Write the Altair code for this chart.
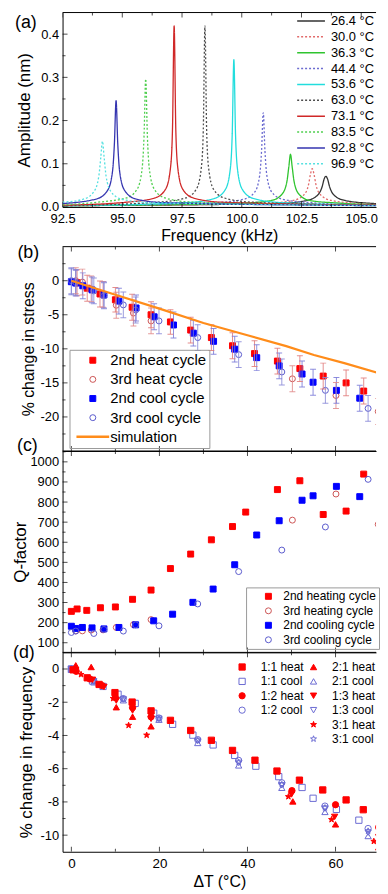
import altair as alt
import pandas as pd

FONT = "Liberation Sans"
W = 316
HA, HB, HC, HD = 196, 206, 203, 201

# ---------------- (a) resonance curves ----------------
a_labels = ["26.4 °C", "30.0 °C", "36.3 °C", "44.4 °C", "53.6 °C",
            "63.0 °C", "73.1 °C", "83.5 °C", "92.8 °C", "96.9 °C"]
a_colors = ["#333333", "#e26a6a", "#2fc42f", "#6b6bd0", "#22dddd",
            "#4d4d4d", "#d02828", "#4fcf4f", "#3535b0", "#55e0e0"]
a_dash = [[1, 0], [2, 2], [1, 0], [2, 2], [1, 0], [2, 2], [1, 0], [2, 2], [1, 0], [2, 2]]

f_264 = [92.5, 101.52, 102.72, 103.17, 103.37, 103.45, 103.52, 103.59, 103.67, 103.87, 104.32, 105.52, 105.82]
A_264 = [0.003, 0.008, 0.015, 0.027, 0.048, 0.065, 0.071, 0.065, 0.048, 0.027, 0.015, 0.008, 0.007]
f_300 = [92.5, 100.95, 102.15, 102.6, 102.8, 102.88, 102.95, 103.02, 103.1, 103.3, 103.75, 104.95, 105.82]
A_300 = [0.003, 0.008, 0.015, 0.028, 0.053, 0.077, 0.0885, 0.077, 0.053, 0.028, 0.015, 0.008, 0.005]
f_363 = [92.5, 100.04, 101.24, 101.69, 101.89, 101.97, 102.04, 102.11, 102.19, 102.39, 102.84, 104.04, 105.82]
A_363 = [0.003, 0.009, 0.015, 0.030, 0.059, 0.093, 0.122, 0.093, 0.059, 0.030, 0.015, 0.009, 0.005]
f_444 = [92.5, 98.9, 100.1, 100.55, 100.75, 100.83, 100.9, 100.97, 101.05, 101.25, 101.7, 102.9, 105.82]
A_444 = [0.003, 0.010, 0.018, 0.035, 0.073, 0.131, 0.218, 0.131, 0.073, 0.035, 0.018, 0.010, 0.004]
f_536 = [92.5, 97.67, 98.87, 99.32, 99.52, 99.6, 99.67, 99.74, 99.82, 100.02, 100.47, 101.67, 105.82]
A_536 = [0.003, 0.010, 0.020, 0.041, 0.088, 0.167, 0.341, 0.167, 0.088, 0.041, 0.020, 0.010, 0.004]
f_630 = [92.5, 96.46, 97.66, 98.11, 98.31, 98.39, 98.46, 98.53, 98.61, 98.81, 99.26, 100.46, 105.82]
A_630 = [0.003, 0.011, 0.021, 0.042, 0.092, 0.178, 0.419, 0.178, 0.092, 0.042, 0.021, 0.011, 0.004]
f_731 = [92.5, 95.17, 96.37, 96.82, 97.02, 97.1, 97.17, 97.24, 97.32, 97.52, 97.97, 99.17, 105.82]
A_731 = [0.004, 0.011, 0.021, 0.042, 0.092, 0.178, 0.419, 0.178, 0.092, 0.042, 0.021, 0.011, 0.004]
f_835 = [92.5, 93.98, 95.18, 95.63, 95.83, 95.91, 95.98, 96.05, 96.13, 96.33, 96.78, 97.98, 105.82]
A_835 = [0.005, 0.011, 0.021, 0.042, 0.089, 0.164, 0.296, 0.164, 0.089, 0.042, 0.021, 0.011, 0.003]
f_928 = [92.5, 93.94, 94.39, 94.59, 94.67, 94.74, 94.81, 94.89, 95.09, 95.54, 96.74, 105.82]
A_928 = [0.008, 0.019, 0.039, 0.082, 0.147, 0.246, 0.147, 0.082, 0.039, 0.019, 0.010, 0.003]
f_969 = [92.5, 93.37, 93.82, 94.02, 94.1, 94.17, 94.24, 94.32, 94.52, 94.97, 96.17, 105.82]
A_969 = [0.011, 0.018, 0.036, 0.072, 0.115, 0.152, 0.115, 0.072, 0.036, 0.018, 0.010, 0.003]

a_f = [f_264, f_300, f_363, f_444, f_536, f_630, f_731, f_835, f_928, f_969]
a_A = [A_264, A_300, A_363, A_444, A_536, A_630, A_731, A_835, A_928, A_969]

a_xt_major = [92.5, 95.0, 97.5, 100.0, 102.5, 105.0]
a_xt_minor = [93.75, 96.25, 98.75, 101.25, 103.75]
a_yt_major = [0.0, 0.1, 0.2, 0.3, 0.4]
a_yt_minor = [0.05, 0.15, 0.25, 0.35]

# ---------------- (b) stress ----------------
b_series = ["2nd heat cycle", "3rd heat cycle", "2nd cool cycle", "3rd cool cycle", "simulation"]
b_h2_x = [1.3, 3.6, 6.5, 10.0, 13.8, 18.1, 22.5, 27.1, 31.8, 36.6, 41.6, 46.8, 51.9, 57.2, 62.4, 66.4, 70.5]
b_h2_y = [-0.3, -1.1, -1.95, -2.8, -3.9, -5.0, -6.05, -7.25, -8.35, -9.55, -10.7, -11.8, -12.9, -14.0, -15.0, -16.2, -17.3]
b_h2_e = [1.9, 1.9, 1.9, 1.8, 1.9, 1.9, 1.8, 1.9, 1.9, 1.9, 1.9, 1.9, 1.9, 1.9, 1.9, 1.9, 1.9]
b_h3_x = [1.0, 2.5, 4.5, 7.2, 10.2, 14.1, 18.1, 50.2, 60.1, 69.7]
b_h3_y = [0.0, -0.2, -1.2, -2.0, -3.6, -4.75, -5.9, -14.4, -16.85, -19.2]
b_h3_e = [1.9, 1.9, 1.9, 1.9, 1.9, 1.9, 1.9, 1.9, 1.9, 1.9]
b_c2_x = [0.0, 1.0, 2.6, 4.7, 7.4, 10.8, 14.7, 18.8, 23.2, 27.7, 32.3, 37.1, 42.1, 47.2, 52.4, 54.9, 60.2, 65.5, 70.5]
b_c2_y = [-0.15, -0.35, -0.75, -1.35, -2.1, -3.0, -4.0, -5.3, -6.5, -7.7, -8.9, -10.05, -11.3, -12.5, -13.7, -14.9, -16.1, -17.25, -18.5]
b_c2_e = [1.9, 1.9, 1.9, 1.9, 1.9, 1.9, 1.9, 1.9, 1.9, 1.9, 1.9, 1.9, 1.9, 1.9, 1.9, 1.9, 1.9, 1.9, 1.9]
b_c3_x = [0.0, 1.0, 5.1, 7.4, 11.8, 14.6, 19.9, 28.7, 38.0, 47.8, 57.7, 67.4]
b_c3_y = [0.0, -0.25, -1.5, -2.2, -3.55, -4.3, -5.9, -8.35, -10.85, -13.4, -16.1, -18.75]
b_c3_e = [1.9, 1.9, 1.9, 1.9, 1.9, 1.9, 1.9, 1.9, 1.9, 1.9, 1.9, 1.9]
sim_x = [0, 10, 20, 30, 40, 48.8, 55.1, 62, 70.6]
sim_y = [0, -2.05, -4.1, -6.2, -8.0, -9.6, -10.9, -12.1, -13.7]

b_shapes = ["square", "circle", "square", "circle", "M-5.5,0L5.5,0"]
b_fills = ["#ff0000", "transparent", "#0000ff", "transparent", "transparent"]
b_strokes = ["#ff0000", "#cc5555", "#0000ff", "#5a5acc", "#ff8c1a"]
b_sw = [1, 1, 1, 1, 2.5]
b_errcol = ["#e07a7a", "#e08a8a", "#7a7ad8", "#8a8ad8"]
b_yt_major = [0, -5, -10, -15, -20]
b_yt_minor = [2.5, -2.5, -7.5, -12.5, -17.5, -22.5]

# ---------------- (c) Q-factor ----------------
c_series = ["2nd heating cycle", "3rd heating cycle", "2nd cooling cycle", "3rd cooling cycle"]
c_h2_x = [0.0, 1.3, 3.5, 6.6, 10.0, 13.9, 18.1, 22.5, 27.1, 31.8, 36.6, 39.6, 46.8, 51.9, 57.2, 62.4, 66.4, 70.5]
c_h2_y = [256, 268, 261, 274, 278, 316, 362, 469, 541, 612, 678, 750, 862, 906, 738, 755, 939, 722]
c_h3_x = [1.0, 2.5, 4.5, 7.2, 10.2, 14.1, 18.1, 50.2, 60.1, 69.7]
c_h3_y = [159, 159, 163, 164, 176, 190, 215, 710, 840, 689]
c_c2_x = [0.0, 1.0, 2.5, 4.7, 7.4, 10.8, 14.6, 18.7, 23.0, 27.6, 32.2, 37.1, 42.1, 47.2, 52.4, 54.9, 60.2, 65.5, 70.5]
c_c2_y = [182, 171, 176, 174, 169, 176, 189, 209, 242, 301, 367, 488, 636, 707, 809, 831, 878, 827, 900]
c_c3_x = [0.0, 1.0, 5.1, 7.4, 11.8, 14.6, 19.9, 28.7, 38.0, 47.8, 57.7, 67.4]
c_c3_y = [151, 158, 146, 166, 158, 189, 184, 293, 454, 561, 676, 913]
c_shapes = ["square", "circle", "square", "circle"]
c_fills = ["#ff0000", "transparent", "#0000ff", "transparent"]
c_strokes = ["#ff0000", "#cc5555", "#0000ff", "#5a5acc"]
c_yt_major = [100, 200, 300, 400, 500, 600, 700, 800, 900, 1000]
c_yt_minor = [150, 250, 350, 450, 550, 650, 750, 850, 950, 1050]

# ---------------- (d) frequency change ----------------
d_11h_x = [0.4, 3.6, 6.3, 9.9, 13.8, 18.1, 22.5, 27.1, 31.8, 36.6, 41.7, 46.7, 51.8, 57.1, 62.4, 66.3, 70.4]
d_11h_y = [-0.05, -0.53, -0.93, -1.42, -1.99, -2.52, -3.09, -3.70, -4.29, -4.90, -5.49, -6.14, -6.69, -7.28, -7.88, -8.47, -9.0]
d_11c_x = [0.0, 4.8, 7.2, 10.6, 14.5, 18.7, 23.0, 27.6, 32.2, 37.1, 41.9, 47.1, 52.4, 54.9, 60.2, 65.3, 70.4]
d_11c_y = [0.0, -0.72, -1.05, -1.52, -2.07, -2.66, -3.33, -3.98, -4.57, -5.2, -5.85, -6.48, -7.13, -7.78, -8.45, -9.1, -9.7]
d_12h_x = [1.1, 4.2, 7.0, 10.0, 13.9, 18.1, 50.1, 60.0, 69.8]
d_12h_y = [-0.14, -0.6, -1.0, -1.72, -2.32, -2.88, -7.32, -8.17, -9.53]
d_12c_x = [0.0, 5.1, 11.8, 19.9, 28.7, 38.0, 47.8, 57.6, 67.4]
d_12c_y = [0.0, -0.7, -1.78, -2.95, -4.25, -5.5, -6.85, -8.25, -9.6]
d_21h_x = [1.0, 4.5, 10.2, 13.9, 18.1, 50.3, 60.0, 69.8]
d_21h_y = [0.22, 0.12, -2.3, -2.87, -3.45, -7.97, -9.35, -10.73]
d_21c_x = [0.0, 5.1, 11.8, 19.9, 28.7, 38.0, 47.8, 57.6, 67.4]
d_21c_y = [-0.05, -0.8, -1.88, -3.05, -4.45, -5.8, -7.15, -8.6, -10.05]
d_13h_x = [1.0, 4.8, 7.4, 10.2, 13.9, 18.1, 50.0, 59.8, 69.8]
d_13h_y = [-0.1, -0.65, -1.08, -1.9, -2.5, -3.0, -7.55, -8.9, -10.12]
d_13c_x = [0.0, 5.1, 11.8, 19.9, 28.7, 38.0, 47.8, 57.6, 67.4]
d_13c_y = [0.0, -0.75, -1.83, -3.0, -4.33, -5.65, -7.0, -8.4, -9.85]
d_31h_x = [2.2, 6.5, 9.5, 13.0, 17.1, 49.3, 59.1, 68.7]
d_31h_y = [-0.33, -0.95, -1.77, -3.39, -3.98, -7.68, -9.06, -10.37]
d_31c_x = [0.0, 5.1, 11.8, 19.9, 28.7, 38.0, 47.8, 57.6, 67.4]
d_31c_y = [0.0, -0.73, -1.8, -2.98, -4.3, -5.62, -6.95, -8.35, -9.75]

STAR = "M0,-1L0.235,-0.324L0.951,-0.309L0.38,0.124L0.588,0.809L0,0.4L-0.588,0.809L-0.38,0.124L-0.951,-0.309L-0.235,-0.324Z"
RED, BLU = "#ff0000", "#6a6ad2"
# legend fills column by column: four entries plus two blank slots, then six entries
d_domain = ["1:1 heat", "1:1 cool", "1:2 heat", "1:2 cool", " ", "  ",
            "2:1 heat", "2:1 cool", "1:3 heat", "1:3 cool", "3:1 heat", "3:1 cool"]
d_shapes = ["square", "square", "circle", "circle", "circle", "circle",
            "triangle-up", "triangle-up", "triangle-down", "triangle-down", STAR, STAR]
d_fills = [RED, "transparent", RED, "transparent", "transparent", "transparent",
           RED, "transparent", RED, "transparent", RED, "transparent"]
d_strokes = [RED, BLU, RED, BLU, "transparent", "transparent", RED, BLU, RED, BLU, RED, BLU]
d_yt_major = [0, -2, -4, -6, -8, -10]
d_yt_minor = [-1, -3, -5, -7, -9]

dT_major = [0, 20, 40, 60]
dT_minor = [10, 30, 50]

# ---------------- scales ----------------
xa = alt.Scale(domain=[92.5, 105.62], nice=False, zero=False)
ya = alt.Scale(domain=[0, 0.45], nice=False, zero=False)
xT = alt.Scale(domain=[-2, 69.2], nice=False, zero=False)
yb = alt.Scale(domain=[-25, 5], nice=False, zero=False)
yc = alt.Scale(domain=[52, 1054], nice=False, zero=False)
yd = alt.Scale(domain=[-11, 1], nice=False, zero=False)

MINUS = "replace(datum.label, '\u2212', '-')"
one = pd.DataFrame({"k": [0]})

IND = dict(color="independent", fill="independent", stroke="independent", shape="independent",
           strokeDash="independent", strokeWidth="independent")


def frame(xs, ys, xax, yax, h, xmaj, xmin, ymaj, ymin):
    layers = []
    for vals, ln in ((xmaj, 5), (xmin, 3)):
        d = pd.DataFrame({"v": vals})
        for yy in (ln / 2, h - ln / 2):
            layers.append(alt.Chart(d).mark_tick(orient="vertical", size=ln, thickness=1, color="black",
                                                 clip=True)
                          .encode(x=alt.X("v:Q", scale=xs, axis=xax), y=alt.value(yy)))
    for vals, ln in ((ymaj, 5), (ymin, 3)):
        d = pd.DataFrame({"v": vals})
        layers.append(alt.Chart(d).mark_tick(orient="horizontal", size=ln, thickness=1, color="black")
                      .encode(y=alt.Y("v:Q", scale=ys, axis=yax), x=alt.value(ln / 2)))
    layers.append(alt.Chart(one).mark_rule(color="black", strokeWidth=1)
                  .encode(x=alt.value(0), x2=alt.value(W), y=alt.value(0)))
    return layers


def plabel(t, x, y):
    return alt.Chart(pd.DataFrame({"t": [t]})).mark_text(font=FONT, fontSize=18, color="black").encode(
        text="t:N", x=alt.value(x), y=alt.value(y))


def xy_rows(series, xs_list, ys_list, errs=None):
    rows = []
    for i, s in enumerate(series):
        for j, (x, y) in enumerate(zip(xs_list[i], ys_list[i])):
            r = {"s": s, "x": x, "y": y}
            if errs is not None:
                r["lo"] = y - errs[i][j]
                r["hi"] = y + errs[i][j]
            rows.append(r)
    return pd.DataFrame(rows)


axis_x_mid = alt.Axis(labels=False, ticks=False, domain=True, title=None)

# ---------------- panel (a) ----------------
rows = []
for lab, fs, amps in zip(a_labels, a_f, a_A):
    for f, v in zip(fs, amps):
        rows.append({"T": lab, "f": f, "A": v})
dfa = pd.DataFrame(rows)

ax_xa = alt.Axis(values=a_xt_major, format=".1f", labelFontSize=13, labelPadding=6,
                 title="Frequency (kHz)", titleFontSize=16, titlePadding=2)
ax_ya = alt.Axis(values=a_yt_major, format=".1f", labelFontSize=13, labelPadding=4,
                 title="Amplitude (nm)", titleFontSize=17, titlePadding=7)
leg_a = alt.Legend(orient="none", legendX=244, legendY=2, title=None, labelFontSize=13,
                   symbolType="M-4,0L4,0", symbolSize=49, symbolStrokeWidth=1.5,
                   labelOffset=13.5, rowPadding=2, padding=0)
lines_a = alt.Chart(dfa).mark_line(strokeWidth=1.3, interpolate="monotone", clip=True).encode(
    x=alt.X("f:Q", scale=xa, axis=ax_xa),
    y=alt.Y("A:Q", scale=ya, axis=ax_ya),
    color=alt.Color("T:N", scale=alt.Scale(domain=a_labels, range=a_colors), legend=leg_a),
    strokeDash=alt.StrokeDash("T:N", scale=alt.Scale(domain=a_labels, range=a_dash), legend=leg_a),
)
panel_a = alt.layer(lines_a, *frame(xa, ya, ax_xa, ax_ya, HA, a_xt_major, a_xt_minor, a_yt_major, a_yt_minor),
                    plabel("(a)", -37, 11)).properties(width=W, height=HA)

# ---------------- panel (b) ----------------
dfb = xy_rows(b_series[:4], [b_h2_x, b_h3_x, b_c2_x, b_c3_x], [b_h2_y, b_h3_y, b_c2_y, b_c3_y],
              [b_h2_e, b_h3_e, b_c2_e, b_c3_e])
ax_yb = alt.Axis(values=b_yt_major, labelExpr=MINUS, labelFontSize=13, labelPadding=4,
                 title="% change in stress", titleFontSize=16, titlePadding=4)
leg_b = alt.Legend(orient="none", legendX=7, legendY=104, title=None, labelFontSize=15,
                   symbolSize=36, symbolOffset=13, labelOffset=10, rowPadding=3.3, padding=3,
                   strokeColor="#999999")
errcolor = alt.Color("s:N", scale=alt.Scale(domain=b_series[:4], range=b_errcol), legend=None)
eb = alt.Chart(dfb).mark_rule(strokeWidth=1, opacity=0.85, clip=True).encode(
    x=alt.X("x:Q", scale=xT, axis=axis_x_mid), y=alt.Y("lo:Q", scale=yb, axis=ax_yb), y2="hi:Q",
    color=errcolor)
cap_lo = alt.Chart(dfb).mark_tick(orient="horizontal", size=6, thickness=1, opacity=0.85, clip=True).encode(
    x=alt.X("x:Q", scale=xT, axis=axis_x_mid), y=alt.Y("lo:Q", scale=yb, axis=ax_yb), color=errcolor)
cap_hi = alt.Chart(dfb).mark_tick(orient="horizontal", size=6, thickness=1, opacity=0.85, clip=True).encode(
    x=alt.X("x:Q", scale=xT, axis=axis_x_mid), y=alt.Y("hi:Q", scale=yb, axis=ax_yb), color=errcolor)
sim = alt.Chart(pd.DataFrame({"x": sim_x, "y": sim_y})).mark_line(
    color="#ff8c1a", strokeWidth=2.2, clip=True).encode(
    x=alt.X("x:Q", scale=xT, axis=axis_x_mid), y=alt.Y("y:Q", scale=yb, axis=ax_yb))
pts_b = alt.Chart(dfb).mark_point(size=36, opacity=1, clip=True).encode(
    x=alt.X("x:Q", scale=xT, axis=axis_x_mid),
    y=alt.Y("y:Q", scale=yb, axis=ax_yb),
    shape=alt.Shape("s:N", scale=alt.Scale(domain=b_series, range=b_shapes), legend=leg_b),
    fill=alt.Fill("s:N", scale=alt.Scale(domain=b_series, range=b_fills), legend=leg_b),
    stroke=alt.Stroke("s:N", scale=alt.Scale(domain=b_series, range=b_strokes), legend=leg_b),
    strokeWidth=alt.StrokeWidth("s:N", scale=alt.Scale(type="ordinal", domain=b_series, range=b_sw),
                                legend=leg_b),
)
panel_b = alt.layer(pts_b, eb, cap_lo, cap_hi, sim,
                    *frame(xT, yb, axis_x_mid, ax_yb, HB, dT_major, dT_minor, b_yt_major, b_yt_minor),
                    plabel("(b)", -34.5, 6), plabel("(c)", -35.5, 200.5)).properties(width=W, height=HB)

# ---------------- panel (c) ----------------
dfc = xy_rows(c_series, [c_h2_x, c_h3_x, c_c2_x, c_c3_x], [c_h2_y, c_h3_y, c_c2_y, c_c3_y])
ax_yc = alt.Axis(values=c_yt_major, format="d", labelFontSize=13, labelPadding=4,
                 title="Q-factor", titleFontSize=17, titlePadding=0)
leg_c = alt.Legend(orient="none", legendX=185, legendY=137.5, title=None, labelFontSize=12,
                   symbolSize=36, symbolOffset=13.5, labelOffset=9, rowPadding=2.6, padding=3,
                   symbolStrokeWidth=1, strokeColor="#999999")
pts_c = alt.Chart(dfc).mark_point(size=36, opacity=1, strokeWidth=1, clip=True).encode(
    x=alt.X("x:Q", scale=xT, axis=axis_x_mid),
    y=alt.Y("y:Q", scale=yc, axis=ax_yc),
    shape=alt.Shape("s:N", scale=alt.Scale(domain=c_series, range=c_shapes), legend=leg_c),
    fill=alt.Fill("s:N", scale=alt.Scale(domain=c_series, range=c_fills), legend=leg_c),
    stroke=alt.Stroke("s:N", scale=alt.Scale(domain=c_series, range=c_strokes), legend=leg_c),
)
panel_c = alt.layer(pts_c, *frame(xT, yc, axis_x_mid, ax_yc, HC, dT_major, dT_minor, c_yt_major,
                                  c_yt_minor)).properties(width=W, height=HC)

# ---------------- panel (d) ----------------
d_names = ["1:1 cool", "1:2 cool", "2:1 cool", "1:3 cool", "3:1 cool",
           "1:1 heat", "1:2 heat", "2:1 heat", "1:3 heat", "3:1 heat"]
dfd = xy_rows(d_names,
              [d_11c_x, d_12c_x, d_21c_x, d_13c_x, d_31c_x, d_11h_x, d_12h_x, d_21h_x, d_13h_x, d_31h_x],
              [d_11c_y, d_12c_y, d_21c_y, d_13c_y, d_31c_y, d_11h_y, d_12h_y, d_21h_y, d_13h_y, d_31h_y])
ax_xd = alt.Axis(values=dT_major, labelFontSize=13.5, labelPadding=5,
                 title="ΔT (°C)", titleFontSize=16, titlePadding=4)
ax_yd = alt.Axis(values=d_yt_major, labelExpr=MINUS, labelFontSize=13, labelPadding=4,
                 title="% change in frequency", titleFontSize=17, titlePadding=5)
leg_d = alt.Legend(orient="none", legendX=175, legendY=8.75, title=None, labelFontSize=12,
                   columns=2, columnPadding=3, symbolSize=40, labelOffset=12.7, rowPadding=2.5,
                   padding=0, symbolStrokeWidth=1)
pts_d = alt.Chart(dfd).mark_point(size=40, opacity=1, strokeWidth=1, clip=True).encode(
    x=alt.X("x:Q", scale=xT, axis=ax_xd),
    y=alt.Y("y:Q", scale=yd, axis=ax_yd),
    shape=alt.Shape("s:N", scale=alt.Scale(domain=d_domain, range=d_shapes), legend=leg_d),
    fill=alt.Fill("s:N", scale=alt.Scale(domain=d_domain, range=d_fills), legend=leg_d),
    stroke=alt.Stroke("s:N", scale=alt.Scale(domain=d_domain, range=d_strokes), legend=leg_d),
)
panel_d = alt.layer(pts_d, *frame(xT, yd, ax_xd, ax_yd, HD, dT_major, dT_minor, d_yt_major, d_yt_minor),
                    plabel("(d)", -39, 1)).properties(width=W, height=HD)

inner = alt.vconcat(panel_b, panel_c, panel_d, spacing=0, bounds="flush").resolve_scale(**IND)
chart = alt.vconcat(panel_a, inner, spacing=40, bounds="flush").resolve_scale(**IND).properties(
    padding={"left": 4, "top": 0, "right": 0, "bottom": 0}
).configure(font=FONT).configure_axis(
    labelFont=FONT, titleFont=FONT, labelColor="black", titleColor="black", domainColor="black",
    domainWidth=1, grid=False, ticks=False, titleFontWeight="normal", labelFlush=False,
    labelOverlap=False
).configure_legend(labelFont=FONT, labelColor="black").configure_view(stroke=None)

chart.save("out.html", embed_options={"renderer": "svg", "actions": False})
